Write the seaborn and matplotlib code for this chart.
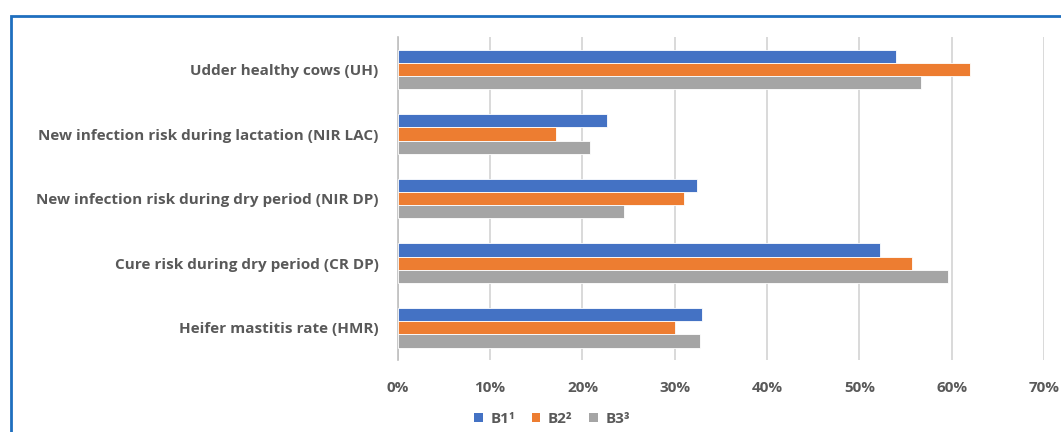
import matplotlib
matplotlib.use("Agg")
import matplotlib.pyplot as plt
import seaborn as sns
import pandas as pd
from matplotlib.patches import Rectangle, Patch
from matplotlib.ticker import PercentFormatter

categories = [
    "Udder healthy cows (UH)",
    "New infection risk during lactation (NIR LAC)",
    "New infection risk during dry period (NIR DP)",
    "Cure risk during dry period (CR DP)",
    "Heifer mastitis rate (HMR)",
]
series_names = ["B1\u00b9", "B2\u00b2", "B3\u00b3"]
b1 = [54.0, 22.7, 32.4, 52.2, 33.0]
b2 = [62.0, 17.1, 31.0, 55.7, 30.0]
b3 = [56.7, 20.8, 24.5, 59.6, 32.7]
colors = ["#4472C4", "#ED7D31", "#A5A5A5"]

rows = []
for name, vals in zip(series_names, [b1, b2, b3]):
    for c, v in zip(categories, vals):
        rows.append({"category": c, "series": name, "value": v})
df = pd.DataFrame(rows)

sns.set_style("white")
plt.rcParams["font.family"] = ["Open Sans", "DejaVu Sans"]

fig = plt.figure(figsize=(10.61, 4.32), dpi=100)
ax = fig.add_axes([0.375, 0.1667, 0.609, 0.7473])

sns.barplot(data=df, y="category", x="value", hue="series", order=categories,
            hue_order=series_names, palette=colors, orient="h", width=0.615,
            gap=0, ax=ax, legend=False, edgecolor="white", linewidth=0.6,
            saturation=1, zorder=3)

ax.set_xlim(0, 70)
ax.set_xticks(range(0, 71, 10))
ax.xaxis.set_major_formatter(PercentFormatter(decimals=0))
ax.grid(axis="x", color="#D9D9D9", linewidth=1.4, zorder=0)
ax.grid(axis="y", visible=False)
ax.set_axisbelow(True)
for s in ["top", "right", "bottom"]:
    ax.spines[s].set_visible(False)
ax.spines["left"].set_color("#BFBFBF")
ax.spines["left"].set_linewidth(1.2)
ax.set_xlabel("")
ax.set_ylabel("")
ax.tick_params(axis="both", length=0, colors="#595959")
ax.tick_params(axis="y", pad=14)
ax.tick_params(axis="x", pad=15)
for lab in ax.get_yticklabels() + ax.get_xticklabels():
    lab.set_fontweight("bold")
    lab.set_fontsize(11)
    lab.set_color("#595959")

handles = [Patch(facecolor=c, edgecolor="none") for c in colors]
leg = fig.legend(handles, series_names, loc="center", bbox_to_anchor=(552 / 1061, 1 - 419 / 432),
                 ncol=3, frameon=False, handlelength=0.55, handleheight=0.55,
                 handletextpad=0.5, columnspacing=1.1,
                 prop={"weight": "bold", "size": 11})
for t in leg.get_texts():
    t.set_color("#595959")

border = Rectangle((11 / 1061, -0.1), 1.2, 1 - 16 / 432 + 0.1, transform=fig.transFigure,
                   fill=False, edgecolor="#1F6FBF", linewidth=2, clip_on=False)
fig.add_artist(border)

fig.savefig("out.png", dpi=100)
